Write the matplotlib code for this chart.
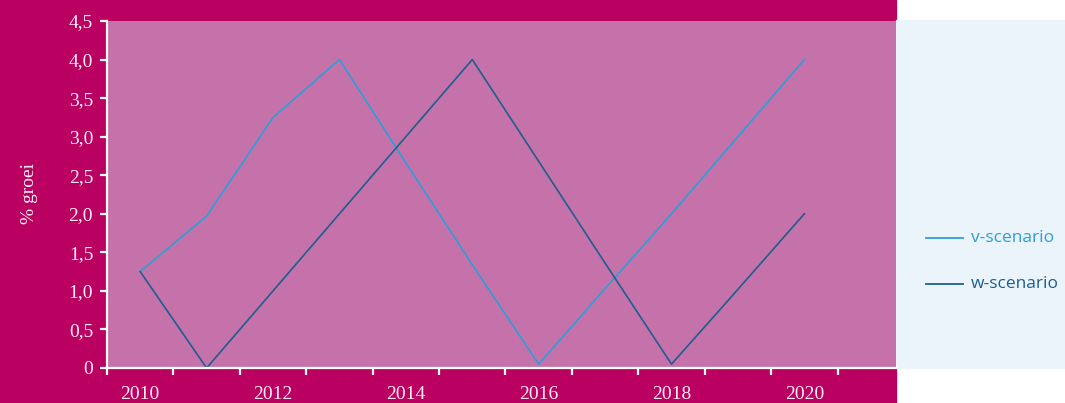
import matplotlib
matplotlib.use('Agg')
import matplotlib.pyplot as plt
from matplotlib.patches import Rectangle
from matplotlib.lines import Line2D

years = [2010, 2011, 2012, 2013, 2014, 2015, 2016, 2017, 2018, 2019, 2020]
v_scenario = [1.25, 1.97, 3.25, 4.0, 2.66, 1.34, 0.05, 1.03, 2.0, 3.0, 4.0]
w_scenario = [1.25, 0.0, 1.0, 2.0, 3.0, 4.0, 2.68, 1.36, 0.05, 1.02, 2.0]
y_ticks = [0, 0.5, 1.0, 1.5, 2.0, 2.5, 3.0, 3.5, 4.0, 4.5]
y_labels = ['0', '0,5', '1,0', '1,5', '2,0', '2,5', '3,0', '3,5', '4,0', '4,5']
x_labels = [2010, 2012, 2014, 2016, 2018, 2020]

magenta = '#BA0060'
plot_bg = '#C672AA'
panel_bg = '#EBF3FB'
v_col = '#2A9FD8'
w_col = '#1C5F8E'
txt = '#FBEFF5'

W, H = 1065, 403
fig = plt.figure(figsize=(W / 100, H / 100), dpi=100)
fig.patch.set_facecolor('white')

# magenta panel and light blue legend panel
fig.add_artist(Rectangle((0, 0), 896 / W, 1, transform=fig.transFigure,
                         color=magenta, zorder=0))
fig.add_artist(Rectangle((896 / W, (H - 368) / H), 1 - 896 / W, 348 / H,
                         transform=fig.transFigure, color=panel_bg, zorder=0))

ax = fig.add_axes([107 / W, (H - 368) / H, (896 - 107) / W, (368 - 21) / H])
ax.set_facecolor(plot_bg)

ax.plot(years, v_scenario, color=v_col, lw=1.2)
ax.plot(years, w_scenario, color=w_col, lw=1.2)

ax.set_xlim(2009.5, 2021.38)
ax.set_ylim(0, 4.5)

for s in ['top', 'right']:
    ax.spines[s].set_visible(False)
for s in ['left', 'bottom']:
    ax.spines[s].set_color('white')
    ax.spines[s].set_linewidth(1.6)

serif = 'Liberation Serif'
ax.set_yticks(y_ticks)
ax.set_yticklabels(y_labels, fontsize=14, color=txt, family=serif)
ax.tick_params(axis='y', colors='white', length=5, width=1.6, pad=5,
               labelcolor=txt)

ax.set_xticks([2009.5 + k for k in range(12)])
ax.set_xticklabels([])
ax.tick_params(axis='x', which='major', colors='white', length=5, width=1.6)
ax.set_xticks(x_labels, minor=True)
ax.set_xticklabels([str(x) for x in x_labels], minor=True, fontsize=14,
                   color=txt, family=serif)
ax.tick_params(axis='x', which='minor', length=0, pad=13, labelcolor=txt)

fig.text(29 / W, 1 - 194 / H, '% groei', rotation=90, ha='center',
         va='center', fontsize=14, color=txt, family=serif)

# legend
for yy, col, lab in [(238, v_col, 'v-scenario'), (284, w_col, 'w-scenario')]:
    fig.add_artist(Line2D([926 / W, 963 / W], [1 - yy / H, 1 - yy / H],
                          transform=fig.transFigure, color=col, lw=1.3))
    fig.text(971 / W, 1 - yy / H, lab, ha='left', va='center',
             fontsize=12.5, color=col, family='Open Sans')

fig.savefig('out.png', dpi=100)
